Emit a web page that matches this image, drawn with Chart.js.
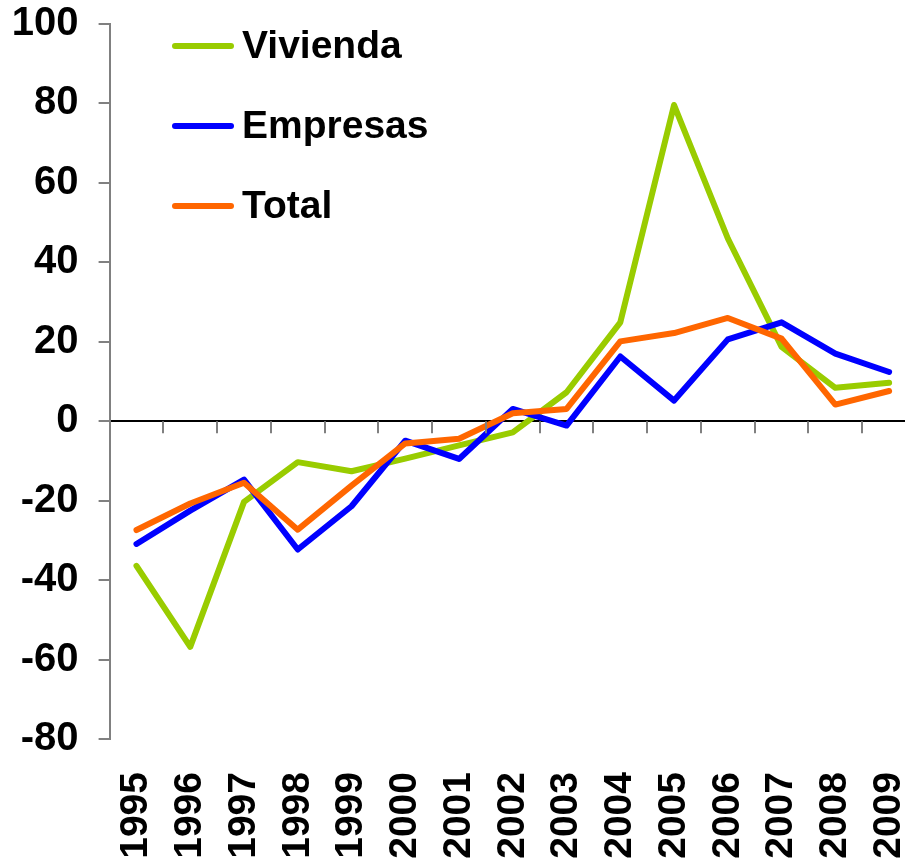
<!DOCTYPE html>
<html>
<head>
<meta charset="utf-8">
<script src="https://cdn.jsdelivr.net/npm/chart.js@4"></script>
<style>
html,body{margin:0;padding:0;background:#fff;overflow:hidden;}
#wrap{width:916px;height:861px;}
</style>
</head>
<body>
<div id="wrap"><canvas id="c" width="916" height="861"></canvas></div>
<script>
const categories = ['1995','1996','1997','1998','1999','2000','2001','2002','2003','2004','2005','2006','2007','2008','2009'];
const vivienda = [-36.4, -56.8, -20.3, -10.3, -12.6, -9.4, -6.1, -2.8, 7.3, 24.9, 79.6, 46, 18.7, 8.4, 9.7];
const empresas = [-30.9, -22.5, -14.7, -32.3, -21.4, -4.9, -9.5, 3.1, -1.1, 16.3, 5.2, 20.6, 24.9, 17, 12.4];
const total = [-27.4, -20.7, -15.5, -27.3, -16.2, -5.6, -4.4, 2.0, 3.1, 20.1, 22.2, 26, 20.8, 4.2, 7.6];
const seriesNames = ['Vivienda', 'Empresas', 'Total'];
const yTicks = [-80, -60, -40, -20, 0, 20, 40, 60, 80, 100];

const FONT = '"Liberation Sans", Arial, sans-serif';

const zeroTicks = {
  id: 'zeroTicks',
  afterDatasetsDraw(chart) {
    const ctx = chart.ctx, x = chart.scales.x, y = chart.scales.y;
    const y0 = y.getPixelForValue(0);
    const n = categories.length;
    ctx.save();
    ctx.strokeStyle = '#808080';
    ctx.lineWidth = 2;
    for (let i = 1; i < n; i++) {
      const bx = Math.round((x.getPixelForValue(i - 1) + x.getPixelForValue(i)) / 2);
      ctx.beginPath();
      ctx.moveTo(bx, y0);
      ctx.lineTo(bx, y0 + 12);
      ctx.stroke();
    }
    ctx.restore();
  }
};

const customLegend = {
  id: 'customLegend',
  afterDraw(chart) {
    const ctx = chart.ctx;
    ctx.save();
    ctx.font = 'bold 39px ' + FONT;
    ctx.textBaseline = 'middle';
    ctx.fillStyle = '#000';
    chart.data.datasets.forEach((ds, i) => {
      const cy = 46 + i * 80;
      ctx.strokeStyle = ds.borderColor;
      ctx.lineWidth = 6;
      ctx.lineCap = 'round';
      ctx.beginPath();
      ctx.moveTo(175, cy);
      ctx.lineTo(231, cy);
      ctx.stroke();
      ctx.fillText(ds.label, 242, cy + 1);
    });
    ctx.restore();
  }
};

new Chart(document.getElementById('c'), {
  type: 'line',
  data: {
    labels: categories,
    datasets: [
      { label: seriesNames[0], data: vivienda, borderColor: '#99CC00', order: 3 },
      { label: seriesNames[1], data: empresas, borderColor: '#0000FF', order: 2 },
      { label: seriesNames[2], data: total, borderColor: '#FF6600', order: 1 }
    ].map(d => Object.assign(d, {
      borderWidth: 6, pointRadius: 0, pointHoverRadius: 0, tension: 0,
      fill: false, borderCapStyle: 'round', borderJoinStyle: 'round'
    }))
  },
  options: {
    responsive: false,
    animation: false,
    events: [],
    layout: { padding: { top: 24, left: 0, right: 0, bottom: 0 } },
    plugins: { legend: { display: false }, tooltip: { enabled: false } },
    scales: {
      x: {
        type: 'category',
        offset: true,
        grid: { display: false, drawTicks: false, offset: true },
        border: { display: false },
        ticks: {
          color: '#000',
          font: { family: FONT, size: 39, weight: 'bold' },
          minRotation: 90, maxRotation: 90, autoSkip: false,
          padding: 33
        },
        afterFit(scale) {
          scale.height = 861 - 739;
          scale.paddingLeft = 0; scale.paddingRight = 0;
          scale.paddingTop = 0; scale.paddingBottom = 0;
        }
      },
      y: {
        min: -80, max: 100,
        afterBuildTicks(scale) { scale.ticks = yTicks.map(v => ({ value: v })); },
        ticks: {
          color: '#000',
          font: { family: FONT, size: 40, weight: 'bold' },
          padding: 20
        },
        grid: {
          color: c => (c.tick && c.tick.value === 0) ? '#000' : 'rgba(0,0,0,0)',
          tickColor: '#808080',
          lineWidth: 2,
          tickLength: 11
        },
        border: { color: '#808080', width: 2 },
        afterFit(scale) {
          scale.width = 109.6;
          scale.paddingTop = 0; scale.paddingBottom = 0;
          scale.paddingLeft = 0; scale.paddingRight = 0;
        }
      }
    }
  },
  plugins: [zeroTicks, customLegend]
});
</script>
</body>
</html>
